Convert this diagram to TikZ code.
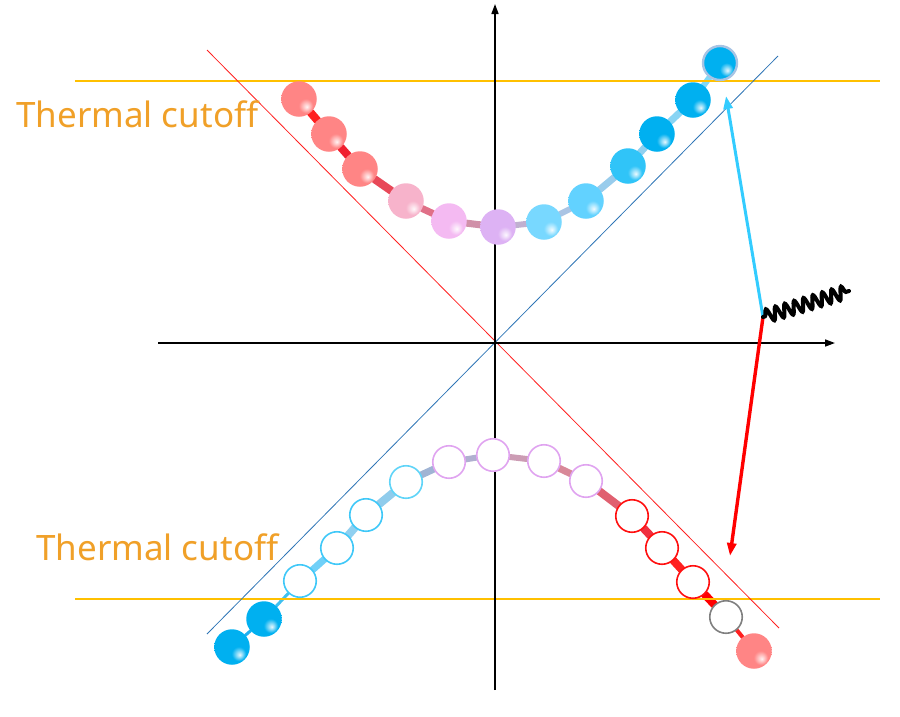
\documentclass[tikz,border=0pt]{standalone}
\usepackage{fontspec}
\setmainfont{Noto Sans}
\usetikzlibrary{arrows.meta,decorations.pathmorphing}
\pgfdeclarelayer{bg}
\pgfsetlayers{bg,main}
\colorlet{beadc}{red}
\pgfdeclareradialshading[beadc]{bead}{\pgfpoint{11bp}{-11bp}}{%
  color(0bp)=(beadc!10!white); color(4bp)=(beadc!45!white); color(10bp)=(beadc);
  color(40bp)=(beadc); color(55bp)=(beadc!93!black); color(75bp)=(beadc!86!black)}
\definecolor{salmon}{HTML}{FF8585}
\definecolor{pinkA}{HTML}{F7B3CB}
\definecolor{pinkB}{HTML}{F4BAF2}
\definecolor{lav}{HTML}{DDB2F4}
\definecolor{cyA}{HTML}{78D8FF}
\definecolor{cyB}{HTML}{62D2FF}
\definecolor{cyC}{HTML}{30C4F8}
\definecolor{bluB}{HTML}{00B0F0}
\definecolor{ringC}{HTML}{40C8F8}
\definecolor{ringC2}{HTML}{60D4F8}
\definecolor{ringV}{HTML}{E0A4F0}
\definecolor{ringR}{HTML}{FF1010}
\definecolor{orangeL}{HTML}{FFC000}
\definecolor{orangeT}{HTML}{F0A028}
\definecolor{diagR}{HTML}{FF2020}
\definecolor{diagB}{HTML}{2E75B6}
\definecolor{arrC}{HTML}{33CCFF}
\definecolor{halo}{HTML}{A8C4E4}
\begin{document}
\begin{tikzpicture}[x=1pt,y=-1pt,
  setbc/.code={\colorlet{beadc}{#1}},
  ball/.style={circle, minimum size=35.5pt, inner sep=0pt, setbc=#1, shading=bead},
  ring/.style={circle, minimum size=32.5pt, inner sep=0pt, draw=#1, line width=1.6pt, fill=white},
  link/.style={line width=#1, line cap=round},
  axis/.style={line width=1.6pt, -{Triangle[length=10pt,width=7pt]}},
  lbl/.style={text=orangeT, inner sep=0pt, anchor=base west, font=\fontsize{35}{40}\selectfont}]
\useasboundingbox (0,0) rectangle (900,716);
% guide lines
\coordinate (oL1) at (75,81);  \coordinate (oR1) at (880,81);
\coordinate (oL2) at (75,599); \coordinate (oR2) at (880,599);
\coordinate (rA) at (207,50);  \coordinate (rB) at (779,628);
\coordinate (bA) at (207,634); \coordinate (bB) at (778,56);
\draw[orangeL, line width=1.6pt] (oL1) -- (oR1);
\draw[orangeL, line width=1.6pt] (oL2) -- (oR2);
\draw[diagR, line width=0.8pt] (rA) -- (rB);
\draw[diagB, line width=0.8pt] (bA) -- (bB);
% axes
\coordinate (yb) at (495,690); \coordinate (yt) at (495,4);
\coordinate (xl) at (158,343); \coordinate (xr) at (835,343);
\draw[axis] (yb) -- (yt);
\draw[axis] (xl) -- (xr);
% labels
\node[lbl] (t1) at (16,127) {Thermal cutoff};
\node[lbl] (t2) at (36,560) {Thermal cutoff};
% upper beads
\node[ball=salmon] (u1) at (299,99) {};
\node[ball=salmon] (u2) at (329,134) {};
\node[ball=salmon] (u3) at (360,169) {};
\node[ball=pinkA] (u4) at (406,201) {};
\node[ball=pinkB] (u5) at (449,221) {};
\node[ball=lav] (u6) at (498,227) {};
\node[ball=cyA] (u7) at (544,222) {};
\node[ball=cyB] (u8) at (586,201) {};
\node[ball=cyC] (u9) at (628,166) {};
\node[ball=bluB] (u10) at (657,134) {};
\node[ball=bluB] (u11) at (693,100) {};
\node[ball=bluB, draw=halo, line width=2.4pt, minimum size=34pt] (u12) at (720,63) {};
% lower beads
\node[ball=bluB] (l1) at (232,647) {};
\node[ball=bluB] (l2) at (264,619) {};
\node[ring=ringC] (l3) at (300,581) {};
\node[ring=ringC] (l4) at (337,548) {};
\node[ring=ringC] (l5) at (366,515) {};
\node[ring=ringC2] (l6) at (406,482) {};
\node[ring=ringV] (l7) at (449,462) {};
\node[ring=ringV] (l8) at (493,455) {};
\node[ring=ringV] (l9) at (544,461) {};
\node[ring=ringV] (l10) at (586,481) {};
\node[ring=ringR] (l11) at (632,516) {};
\node[ring=ringR] (l12) at (662,548) {};
\node[ring=ringR] (l13) at (693,582) {};
\node[ring=gray] (l14) at (726,617) {};
\node[ball=salmon] (l15) at (754,651) {};
% connectors behind beads
\begin{pgfonlayer}{bg}
\draw[link=8pt, color={rgb,255:red,255;green,32;blue,32}] (u1) -- (u2);
\draw[link=8pt, color={rgb,255:red,240;green,32;blue,48}] (u2) -- (u3);
\draw[link=8pt, color={rgb,255:red,232;green,72;blue,88}] (u3) -- (u4);
\draw[link=7pt, color={rgb,255:red,224;green,112;blue,136}] (u4) -- (u5);
\draw[link=7pt, color={rgb,255:red,208;green,144;blue,168}] (u5) -- (u6);
\draw[link=6pt, color={rgb,255:red,192;green,176;blue,208}] (u6) -- (u7);
\draw[link=6pt, color={rgb,255:red,170;green,196;blue,228}] (u7) -- (u8);
\draw[link=7pt, color={rgb,255:red,152;green,204;blue,236}] (u8) -- (u9);
\draw[link=7pt, color={rgb,255:red,144;green,208;blue,240}] (u9) -- (u10);
\draw[link=7pt, color={rgb,255:red,136;green,212;blue,244}] (u10) -- (u11);
\draw[link=6pt, color={rgb,255:red,128;green,216;blue,248}] (u11) -- (u12);
\draw[link=3pt, color={rgb,255:red,32;green,176;blue,240}] (l1) -- (l2);
\draw[link=3pt, color={rgb,255:red,64;green,192;blue,240}] (l2) -- (l3);
\draw[link=7pt, color={rgb,255:red,112;green,208;blue,248}] (l3) -- (l4);
\draw[link=8pt, color={rgb,255:red,144;green,208;blue,240}] (l4) -- (l5);
\draw[link=8pt, color={rgb,255:red,144;green,204;blue,236}] (l5) -- (l6);
\draw[link=7pt, color={rgb,255:red,160;green,180;blue,212}] (l6) -- (l7);
\draw[link=6pt, color={rgb,255:red,176;green,176;blue,208}] (l7) -- (l8);
\draw[link=6pt, color={rgb,255:red,204;green,156;blue,180}] (l8) -- (l9);
\draw[link=7pt, color={rgb,255:red,216;green,136;blue,152}] (l9) -- (l10);
\draw[link=8pt, color={rgb,255:red,224;green,96;blue,112}] (l10) -- (l11);
\draw[link=8pt, color={rgb,255:red,240;green,48;blue,64}] (l11) -- (l12);
\draw[link=8pt, color={rgb,255:red,255;green,32;blue,32}] (l12) -- (l13);
\draw[link=8pt, color={rgb,255:red,255;green,0;blue,0}] (l13) -- (l14);
\draw[link=4pt, color={rgb,255:red,255;green,32;blue,32}] (l14) -- (l15);
\end{pgfonlayer}
% scattering arrows
\coordinate (v) at (763,317);
\coordinate (cT) at (726,96);
\coordinate (rT) at (730,556);
\coordinate (wE) at (849,291);
\draw[arrC, line width=3pt, -{Triangle[length=13pt,width=9pt]}] (v) -- (cT);
\draw[red, line width=3.4pt, -{Triangle[length=13pt,width=9pt]}] (v) -- (rT);
\draw[black, line width=4pt, line cap=round, decorate,
  decoration={snake, amplitude=6.5pt, segment length=9.8pt,
  pre length=2pt, post length=1pt}] (v) -- (wE);
\end{tikzpicture}
\end{document}
